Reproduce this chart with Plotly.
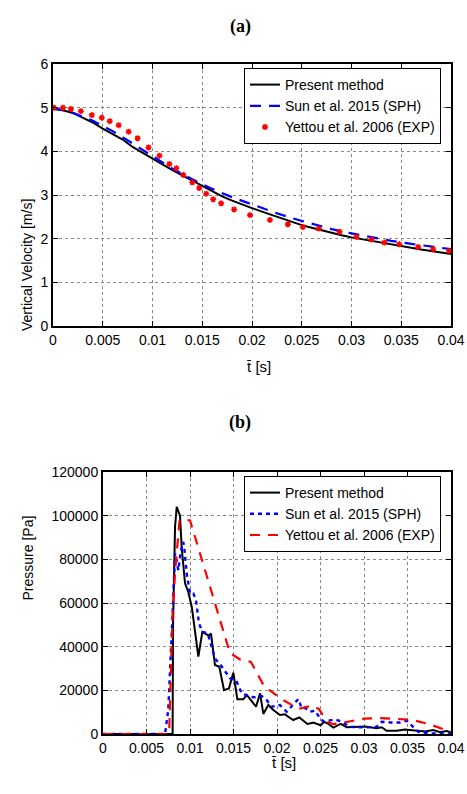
import plotly.graph_objects as go

# ---------------- (a) Vertical velocity ----------------
t_present_a = [0, 0.001, 0.002, 0.003, 0.004, 0.005, 0.006, 0.007, 0.008, 0.009, 0.010,
               0.011, 0.012, 0.013, 0.014, 0.015, 0.016, 0.017, 0.018, 0.019, 0.020,
               0.021, 0.022, 0.023, 0.024, 0.025, 0.026, 0.027, 0.028, 0.029, 0.030,
               0.031, 0.032, 0.033, 0.034, 0.035, 0.036, 0.037, 0.038, 0.039, 0.040]
v_present_a = [4.97, 4.94, 4.88, 4.77, 4.66, 4.52, 4.39, 4.27, 4.10, 3.96, 3.83,
               3.70, 3.57, 3.45, 3.34, 3.22, 3.09, 2.97, 2.87, 2.78, 2.70,
               2.62, 2.54, 2.46, 2.38, 2.31, 2.25, 2.19, 2.13, 2.08, 2.03,
               1.99, 1.95, 1.91, 1.86, 1.82, 1.79, 1.75, 1.72, 1.68, 1.65]

t_sun_a = [0, 0.002, 0.004, 0.006, 0.008, 0.010, 0.012, 0.014, 0.016, 0.018, 0.020,
           0.022, 0.024, 0.026, 0.028, 0.030, 0.032, 0.034, 0.036, 0.038, 0.040]
v_sun_a = [5.00, 4.88, 4.70, 4.46, 4.18, 3.88, 3.60, 3.36, 3.14, 2.95, 2.78,
           2.62, 2.47, 2.34, 2.22, 2.12, 2.03, 1.95, 1.88, 1.82, 1.76]

t_exp_a = [0.0001, 0.0010, 0.0018, 0.0028, 0.0039, 0.0049, 0.0057, 0.0066, 0.0076, 0.0085,
           0.0096, 0.0107, 0.0117, 0.0124, 0.0131, 0.0140, 0.0147, 0.0154, 0.0161, 0.0169,
           0.0182, 0.0198, 0.0218, 0.0236, 0.0251, 0.0267, 0.0288, 0.0305, 0.0320, 0.0333,
           0.0348, 0.0367, 0.0382, 0.0398]
v_exp_a = [5.00, 5.00, 4.97, 4.92, 4.83, 4.77, 4.69, 4.60, 4.45, 4.30,
           4.09, 3.90, 3.71, 3.61, 3.46, 3.29, 3.16, 3.03, 2.90, 2.81,
           2.67, 2.54, 2.43, 2.33, 2.27, 2.23, 2.16, 2.04, 1.98, 1.91,
           1.87, 1.81, 1.76, 1.72]

# ---------------- (b) Pressure ----------------
t_present_b = [0, 0.0080, 0.00805, 0.00828, 0.00847, 0.00885, 0.00905, 0.00943, 0.0098, 0.0102,
               0.01096, 0.01142, 0.0118, 0.01218, 0.01241, 0.01287, 0.01337, 0.01391, 0.01448,
               0.01498, 0.01544, 0.01613, 0.01652, 0.01709, 0.01759, 0.01805, 0.01843, 0.01900,
               0.01958, 0.02034, 0.02092, 0.0213, 0.02187, 0.02257, 0.02349, 0.02417, 0.02502,
               0.0254, 0.02579, 0.02648, 0.02732, 0.02801, 0.02916, 0.03011, 0.03146, 0.03203,
               0.0326, 0.03376, 0.03471, 0.03529, 0.03644, 0.03701, 0.03797, 0.03874, 0.03951, 0.0400]
p_present_b = [0, 0, 50000, 94900, 104000, 100000, 85000, 69000, 65100, 58300,
               35400, 46800, 45800, 45000, 46100, 31600, 30800, 20100, 20900,
               28100, 15900, 15900, 17900, 14800, 12500, 18600, 9200, 13300,
               11000, 8700, 9000, 7900, 6400, 7600, 4600, 5200, 4000,
               5600, 4900, 2900, 4600, 3100, 3200, 3400, 2600, 3100,
               1500, 1500, 2100, 1800, 1500, 1100, 1800, 800, 1400, 600]

t_sun_b = [0, 0.00713, 0.0075, 0.0078, 0.0080, 0.00828, 0.00866, 0.00893, 0.00923, 0.00935,
           0.00962, 0.0100, 0.01038, 0.01069, 0.01103, 0.01142, 0.01203, 0.01249, 0.01287,
           0.01353, 0.01414, 0.0146, 0.01529, 0.01594, 0.0169, 0.01747, 0.01824, 0.01881,
           0.01939, 0.02034, 0.02111, 0.02187, 0.02245, 0.02284, 0.02322, 0.02379, 0.02437,
           0.02494, 0.0254, 0.02667, 0.02743, 0.02839, 0.02935, 0.03011, 0.03146, 0.03203,
           0.03299, 0.03414, 0.03491, 0.03567, 0.03625, 0.03759, 0.0400]
p_sun_b = [0, 0, 11000, 35400, 55000, 82700, 75000, 83400, 88000, 85000,
           73500, 64400, 64400, 61300, 50700, 46800, 46100, 40000, 34600,
           31600, 27800, 25500, 24700, 18600, 17000, 16800, 17400, 15600,
           12500, 13300, 10200, 13300, 16000, 11800, 12000, 10200, 10700,
           7200, 5600, 6700, 5600, 3300, 3000, 3000, 3300, 5600,
           5300, 5300, 6100, 3000, 1000, 300, 0]

t_exp_b = [0, 0.0076, 0.0080, 0.0083, 0.0088, 0.0100, 0.0146, 0.0158, 0.0170, 0.0185,
           0.0205, 0.0225, 0.0240, 0.0248, 0.0258, 0.0265, 0.0280, 0.0300, 0.0320,
           0.0340, 0.0355, 0.0375, 0.0400]
p_exp_b = [0, 0, 55000, 75000, 97900, 97900, 37000, 34000, 33000, 22000,
           16000, 11500, 13000, 11500, 5500, 4500, 5500, 7000, 7300,
           6800, 6500, 4500, 1000]

W, H = 467, 794
FONT = "Liberation Sans, Arial, sans-serif"

fig = go.Figure()

# (a)
fig.add_trace(go.Scatter(x=t_present_a, y=v_present_a, mode="lines", name="Present method",
                         line=dict(color="black", width=2), xaxis="x", yaxis="y", legend="legend"))
fig.add_trace(go.Scatter(x=t_sun_a, y=v_sun_a, mode="lines", name="Sun et al. 2015 (SPH)",
                         line=dict(color="#0000ff", width=2.2, dash="11px,8px"),
                         xaxis="x", yaxis="y", legend="legend"))
fig.add_trace(go.Scatter(x=t_exp_a, y=v_exp_a, mode="markers", name="Yettou et al. 2006 (EXP)",
                         marker=dict(symbol="asterisk-open", size=5, color="#ff0000",
                                     line=dict(color="#ff0000", width=1.5)),
                         xaxis="x", yaxis="y", legend="legend"))

# (b)
fig.add_trace(go.Scatter(x=t_present_b, y=p_present_b, mode="lines", name="Present method",
                         line=dict(color="black", width=2), xaxis="x2", yaxis="y2", legend="legend2"))
fig.add_trace(go.Scatter(x=t_sun_b, y=p_sun_b, mode="lines", name="Sun et al. 2015 (SPH)",
                         line=dict(color="#0000ff", width=2.4, dash="4px,4px"),
                         xaxis="x2", yaxis="y2", legend="legend2"))
fig.add_trace(go.Scatter(x=t_exp_b, y=p_exp_b, mode="lines", name="Yettou et al. 2006 (EXP)",
                         line=dict(color="#ff0000", width=2.2, dash="10px,8px"),
                         xaxis="x2", yaxis="y2", legend="legend2"))

axis_common = dict(showline=True, linecolor="black", linewidth=2, mirror="ticks",
                   ticks="inside", ticklen=5, tickwidth=1, tickcolor="black",
                   showgrid=True, gridcolor="#888888", griddash="dot", gridwidth=1,
                   zeroline=False, automargin=False,
                   tickfont=dict(family=FONT, size=14, color="black"))

fig.update_layout(
    width=W, height=H,
    margin=dict(l=0, r=0, t=0, b=0),
    paper_bgcolor="white", plot_bgcolor="white",
    font=dict(family=FONT, size=14, color="black"),
    xaxis=dict(domain=[53 / W, 451 / W], range=[0, 0.04], dtick=0.005, tick0=0,
               anchor="y", **axis_common),
    yaxis=dict(domain=[1 - 326 / H, 1 - 64 / H], range=[0, 6], dtick=1, tick0=0,
               anchor="x", **axis_common),
    xaxis2=dict(domain=[103 / W, 451 / W], range=[0, 0.04], dtick=0.005, tick0=0,
                anchor="y2", **axis_common),
    yaxis2=dict(domain=[1 - 734 / H, 1 - 472 / H], range=[0, 120000], dtick=20000, tick0=0,
                tickformat="d", anchor="x2", **axis_common),
    legend=dict(x=441 / W, y=1 - 68 / H, xanchor="right", yanchor="top",
                bgcolor="white", bordercolor="black", borderwidth=1,
                font=dict(family=FONT, size=14), tracegroupgap=0),
    legend2=dict(x=441 / W, y=1 - 476 / H, xanchor="right", yanchor="top",
                 bgcolor="white", bordercolor="black", borderwidth=1,
                 font=dict(family=FONT, size=14), tracegroupgap=0),
    annotations=[
        dict(text="<b>(a)</b>", x=240 / W, y=1 - 14 / H, xref="paper", yref="paper",
             showarrow=False, font=dict(family="Liberation Serif, DejaVu Serif, serif", size=18)),
        dict(text="<b>(b)</b>", x=240 / W, y=1 - 422 / H, xref="paper", yref="paper",
             showarrow=False, font=dict(family="Liberation Serif, DejaVu Serif, serif", size=18)),
        dict(text="Vertical Velocity [m/s]", x=17 / W, y=1 - 197 / H, xref="paper", yref="paper",
             textangle=-90, showarrow=False, font=dict(family=FONT, size=14)),
        dict(text="Pressure [Pa]", x=17 / W, y=1 - 603 / H, xref="paper", yref="paper",
             textangle=-90, showarrow=False, font=dict(family=FONT, size=14)),
        dict(text="t\u0304 [s]", x=258 / W, y=1 - 367 / H, xref="paper", yref="paper",
             showarrow=False, font=dict(family=FONT, size=15)),
        dict(text="t\u0304 [s]", x=283 / W, y=1 - 773 / H, xref="paper", yref="paper",
             showarrow=False, font=dict(family=FONT, size=15)),
    ],
)

fig.write_html("out.html")
